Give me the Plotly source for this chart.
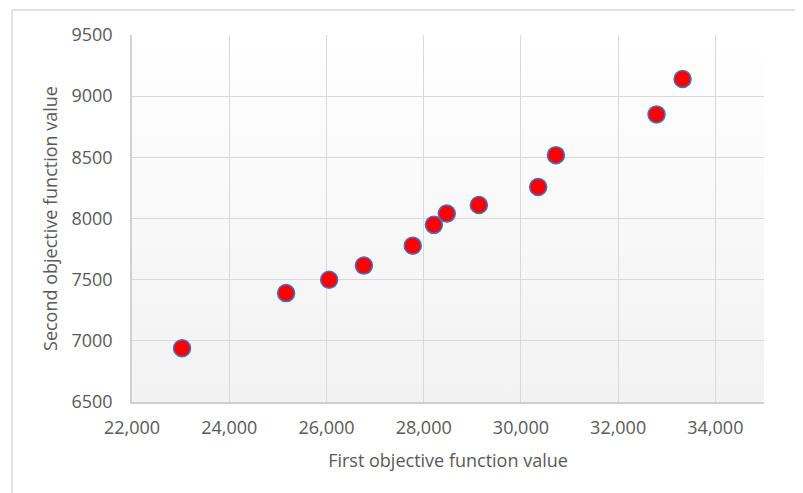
import plotly.graph_objects as go

first_objective = [23030, 25170, 26055, 26770, 27775, 28210, 28475, 29135, 30355, 30720, 32790, 33325]
second_objective = [6940, 7390, 7500, 7615, 7778, 7948, 8040, 8111, 8258, 8518, 8851, 9140]

x_ticks = [22000, 24000, 26000, 28000, 30000, 32000, 34000]
y_ticks = [6500, 7000, 7500, 8000, 8500, 9000, 9500]

FONT = "Open Sans"
TXT = "#595959"
GRID = "#d9d9d9"

grad_svg = ("data:image/svg+xml;utf8,"
            "<svg xmlns='http://www.w3.org/2000/svg' width='100' height='100' preserveAspectRatio='none'>"
            "<defs><linearGradient id='g' x1='0' y1='0' x2='0' y2='1'>"
            "<stop offset='0' stop-color='%23ffffff'/><stop offset='1' stop-color='%23f2f2f2'/>"
            "</linearGradient></defs><rect width='100' height='100' fill='url(%23g)'/></svg>")

# page has an 8px body offset; margins chosen so the plot area lands at x 132-764, y 35-402
L, R, T, B = 124, 47, 27, 99
PW, PH = 803 - L - R, 493 - T - B

fig = go.Figure()
fig.add_trace(go.Scatter(
    x=first_objective, y=second_objective, mode="markers",
    marker=dict(size=17, color="#ff0000", line=dict(color="#4472c4", width=1.5)),
    showlegend=False,
))

fig.update_layout(
    width=803, height=493,
    margin=dict(l=L, r=R, t=T, b=B),
    paper_bgcolor="white",
    plot_bgcolor="rgba(0,0,0,0)",
    font=dict(family=FONT, color=TXT, size=18),
    images=[dict(source=grad_svg, xref="paper", yref="paper", x=0, y=1,
                 sizex=1, sizey=1, sizing="stretch", layer="below", xanchor="left", yanchor="top")],
    shapes=[dict(type="rect", xref="paper", yref="paper",
                 x0=(4 - L) / PW, x1=(820 - L) / PW,
                 y0=(T + PH - 520) / PH, y1=(T + PH - 2) / PH,
                 line=dict(color=GRID, width=1.5), fillcolor="rgba(0,0,0,0)", layer="below")],
    xaxis=dict(
        range=[22000, 35000], tickvals=x_ticks, tickformat=",d",
        showgrid=True, gridcolor=GRID, gridwidth=1.2,
        showline=True, linecolor="#d0d0d0", linewidth=1.5,
        zeroline=False, ticks="", ticklabelstandoff=9,
        tickfont=dict(size=18, color=TXT),
        title=dict(text="First objective function value", font=dict(size=18, color=TXT), standoff=16),
    ),
    yaxis=dict(
        range=[6500, 9500], tickvals=y_ticks, tickformat="d",
        showgrid=True, gridcolor=GRID, gridwidth=1.2,
        showline=True, linecolor="#d0d0d0", linewidth=1.5,
        zeroline=False, ticks="", ticklabelstandoff=14,
        tickfont=dict(size=18, color=TXT),
        title=dict(text="Second objective function value", font=dict(size=18, color=TXT), standoff=9),
    ),
)

fig.write_html("out.html")
